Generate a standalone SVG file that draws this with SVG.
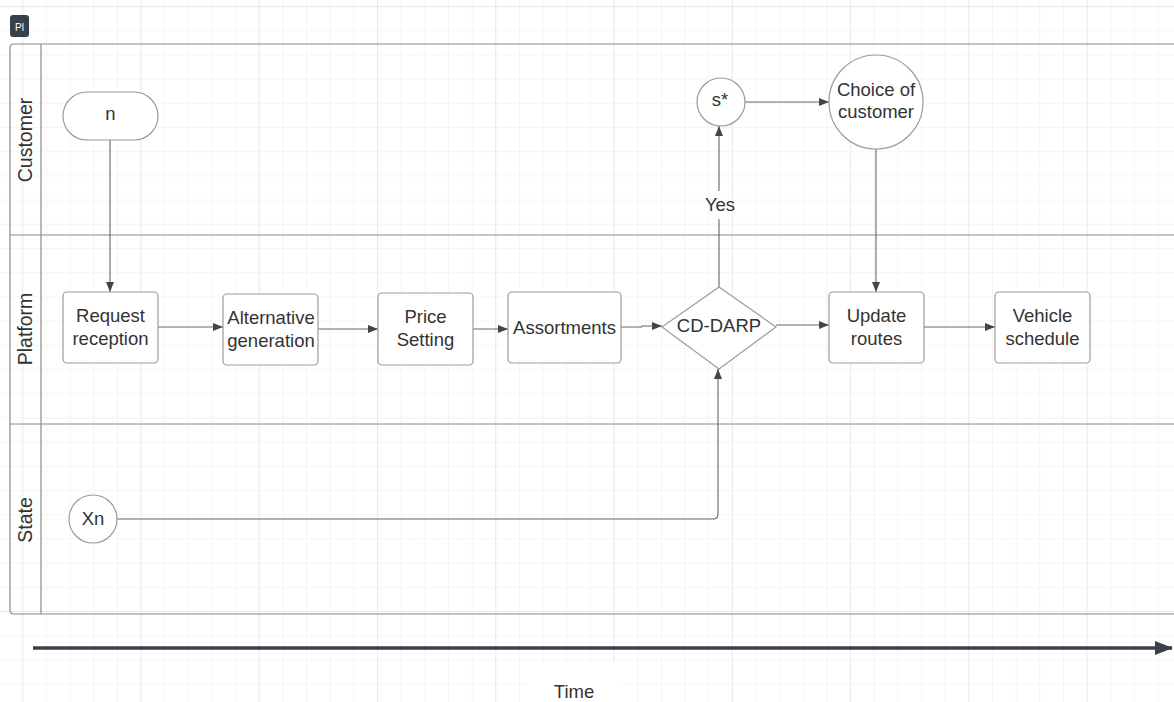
<svg xmlns="http://www.w3.org/2000/svg" width="1174" height="702" viewBox="0 0 1174 702">
<defs>
<pattern id="minor" x="22.3" y="6" width="23.65" height="24.2" patternUnits="userSpaceOnUse">
<path d="M0 0V24.2M0 0H23.65" fill="none" stroke="#ececec" stroke-width="1"/>
</pattern>
<pattern id="major" x="22.3" y="6" width="118.25" height="121" patternUnits="userSpaceOnUse">
<path d="M0 0V121M0 0H118.25" fill="none" stroke="#e0e0e0" stroke-width="1"/>
</pattern>
<marker id="arr" viewBox="0 0 10 10" refX="10" refY="5" markerWidth="10" markerHeight="10" markerUnits="userSpaceOnUse" orient="auto">
<path d="M0 1L10 5L0 9Z" fill="#3f454d"/>
</marker>
<marker id="bigarr" viewBox="0 0 18 14" refX="17" refY="7" markerWidth="18" markerHeight="14" markerUnits="userSpaceOnUse" orient="auto">
<path d="M0 0L18 7L0 14Z" fill="#3a414a"/>
</marker>
</defs>
<style>
text{font-family:"Liberation Sans",Arial,sans-serif;fill:#333;font-size:18.5px;text-anchor:middle}
.lbl{font-size:19.5px}
.box{fill:#fff;stroke:#9b9b9b;stroke-width:1.2}
.lane{fill:none;stroke:#8a8a8a;stroke-width:1.2}
.con{fill:none;stroke:#666;stroke-width:1.1}
</style>
<rect width="1174" height="702" fill="#fff"/>
<rect width="1174" height="702" fill="url(#minor)"/>
<rect width="1174" height="702" fill="url(#major)"/>
<rect x="528" y="662" width="92" height="40" fill="#fff"/>

<g id="badge">
<rect x="10" y="15" width="19" height="22" rx="3" fill="#394049"/>
<text x="19.5" y="30.5" style="fill:#fff;font-size:10px">Pl</text>
</g>

<g id="pool">
<path class="lane" d="M1176 44H14Q10 44 10 48V610Q10 614 14 614H1176"/>
<path class="lane" d="M41 44V614M41 235H1176M41 424H1176M10 235H41M10 424H41"/>
<text class="lbl" transform="translate(32 140) rotate(-90)">Customer</text>
<text class="lbl" transform="translate(32 329) rotate(-90)">Platform</text>
<text class="lbl" transform="translate(32 520) rotate(-90)">State</text>
</g>

<g id="connectors">
<path class="con" d="M110 140V292" marker-end="url(#arr)"/>
<path class="con" d="M158 327H223" marker-end="url(#arr)"/>
<path class="con" d="M318 329H378" marker-end="url(#arr)"/>
<path class="con" d="M473 329H508" marker-end="url(#arr)"/>
<path class="con" d="M621 327H641Q642 327 642 326H662" marker-end="url(#arr)"/>
<path class="con" d="M719 287V219M719 191V126" marker-end="url(#arr)"/>
<path class="con" d="M745 102H829" marker-end="url(#arr)"/>
<path class="con" d="M876 149V292" marker-end="url(#arr)"/>
<path class="con" d="M776 325H829" marker-end="url(#arr)"/>
<path class="con" d="M924 327H995" marker-end="url(#arr)"/>
<path class="con" d="M117 519H713Q718 519 718 514V369" marker-end="url(#arr)"/>
<text x="720" y="211">Yes</text>
</g>

<g id="node-n">
<rect class="box" x="63" y="92" width="95" height="48" rx="24"/>
<text x="110.5" y="120">n</text>
</g>
<g id="node-request">
<rect class="box" x="63" y="292" width="95" height="71" rx="4"/>
<text x="110.5" y="322">Request</text>
<text x="110.5" y="345">reception</text>
</g>
<g id="node-alternative">
<rect class="box" x="223" y="294" width="95" height="71" rx="4"/>
<text x="271" y="324">Alternative</text>
<text x="271" y="347">generation</text>
</g>
<g id="node-price">
<rect class="box" x="378" y="293" width="95" height="72" rx="4"/>
<text x="425.5" y="323">Price</text>
<text x="425.5" y="346">Setting</text>
</g>
<g id="node-assortments">
<rect class="box" x="508" y="292" width="113" height="71" rx="4"/>
<text x="564.5" y="334">Assortments</text>
</g>
<g id="node-cddarp">
<path class="box" d="M719 287L776 327L719 369L662 327Z"/>
<text x="719" y="332">CD-DARP</text>
</g>
<g id="node-update">
<rect class="box" x="829" y="292" width="95" height="71" rx="4"/>
<text x="876.5" y="322">Update</text>
<text x="876.5" y="345">routes</text>
</g>
<g id="node-vehicle">
<rect class="box" x="995" y="292" width="95" height="71" rx="4"/>
<text x="1042.5" y="322">Vehicle</text>
<text x="1042.5" y="345">schedule</text>
</g>
<g id="node-sstar">
<circle class="box" cx="721" cy="102" r="24"/>
<text x="720" y="106">s*</text>
</g>
<g id="node-choice">
<circle class="box" cx="876" cy="102" r="47"/>
<text x="876" y="96">Choice of</text>
<text x="876" y="118">customer</text>
</g>
<g id="node-xn">
<circle class="box" cx="93" cy="519" r="24"/>
<text x="93" y="525">Xn</text>
</g>

<g id="time-axis">
<path d="M33 648H1172" stroke="#3a414a" stroke-width="3.5" fill="none" marker-end="url(#bigarr)"/>
<text x="574" y="698">Time</text>
</g>
</svg>
